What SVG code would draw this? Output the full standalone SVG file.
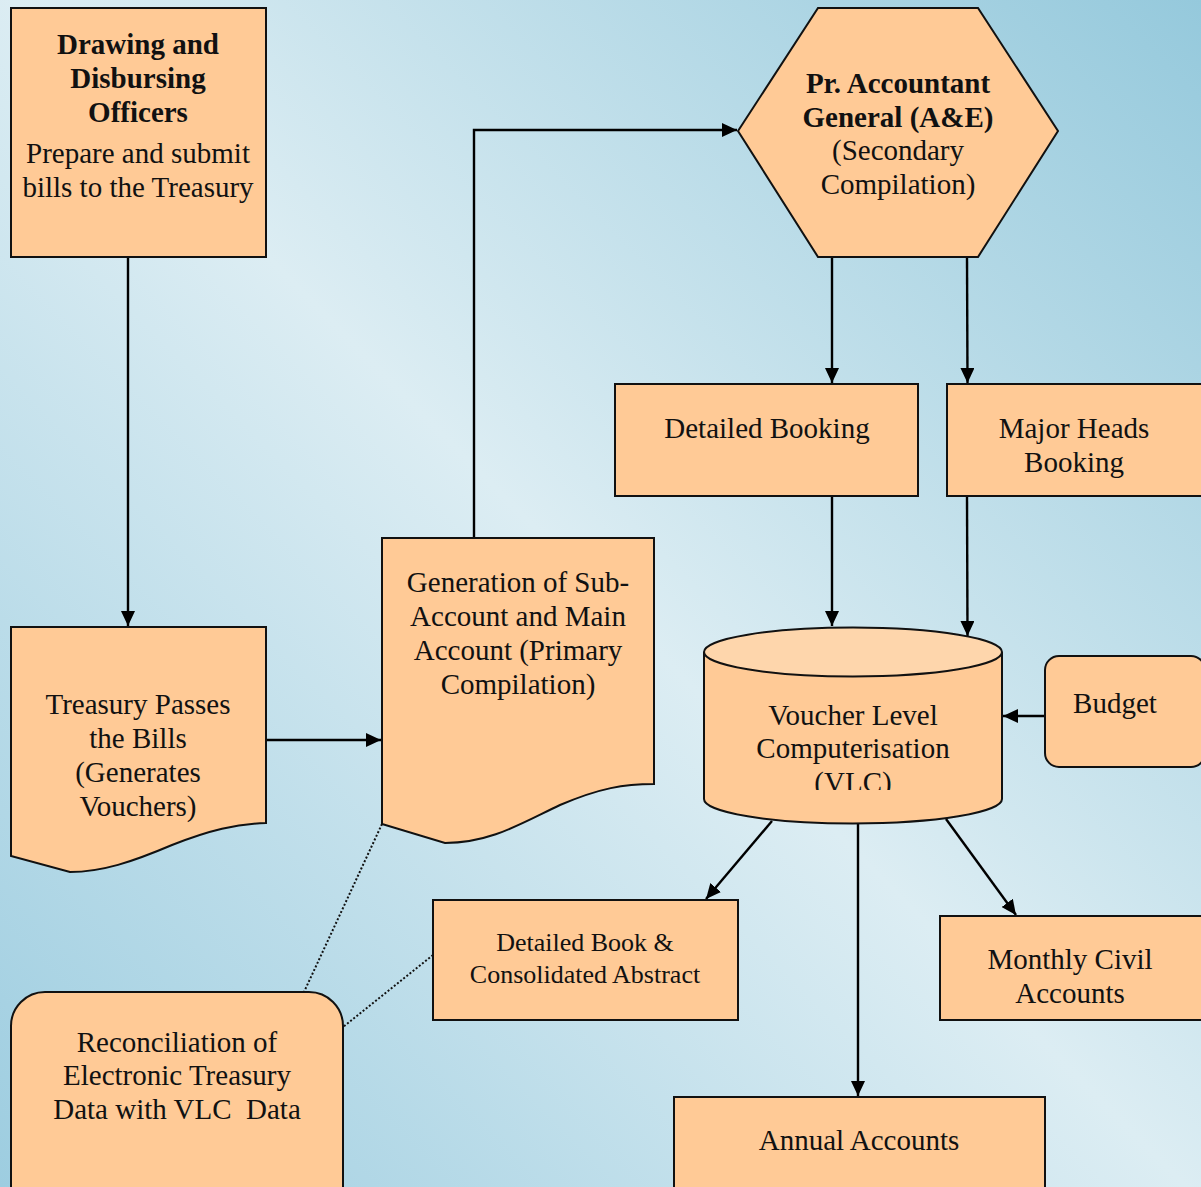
<svg xmlns="http://www.w3.org/2000/svg" width="1201" height="1187" viewBox="0 0 1201 1187">
<defs>
<linearGradient id="bg" gradientUnits="userSpaceOnUse" x1="1201" y1="0" x2="0" y2="1187">
<stop offset="0" stop-color="#95c9dc"/>
<stop offset="0.5" stop-color="#dcedf3"/>
<stop offset="1" stop-color="#9dcde0"/>
</linearGradient>
<marker id="arr" markerUnits="userSpaceOnUse" markerWidth="16" markerHeight="14" refX="15" refY="7" orient="auto">
<path d="M0,0 L15,7 L0,14 Z" fill="#000"/>
</marker>
<clipPath id="cylclip"><rect x="700" y="640" width="310" height="150"/></clipPath>
</defs>
<style>
.box{fill:#ffca96;stroke:#111;stroke-width:2}
.t{font-family:"Liberation Serif","Times New Roman",serif;font-size:29px;fill:#111;text-anchor:middle}
.b{font-weight:bold}
.s{font-size:26px}
.c{fill:none;stroke:#000;stroke-width:2.4}
.d{fill:none;stroke:#111;stroke-width:2;stroke-dasharray:2 2}
</style>
<rect width="1201" height="1187" fill="url(#bg)"/>

<g id="connectors">
<line class="c" x1="128" y1="257" x2="128" y2="626" marker-end="url(#arr)"/>
<line class="c" x1="266" y1="740" x2="381" y2="740" marker-end="url(#arr)"/>
<polyline class="c" points="474,538 474,130 737,130" marker-end="url(#arr)"/>
<line class="c" x1="832" y1="257" x2="832" y2="383" marker-end="url(#arr)"/>
<line class="c" x1="967" y1="257" x2="967.5" y2="383" marker-end="url(#arr)"/>
<line class="c" x1="832" y1="496" x2="832" y2="626" marker-end="url(#arr)"/>
<line class="c" x1="967" y1="496" x2="967.5" y2="636" marker-end="url(#arr)"/>
<line class="c" x1="1045" y1="716" x2="1003" y2="716" marker-end="url(#arr)"/>
<line class="c" x1="772" y1="821" x2="706" y2="899" marker-end="url(#arr)"/>
<line class="c" x1="858" y1="823" x2="858" y2="1096" marker-end="url(#arr)"/>
<line class="c" x1="946" y1="819" x2="1016" y2="915" marker-end="url(#arr)"/>
<line class="d" x1="382" y1="824" x2="304" y2="992"/>
<line class="d" x1="433" y1="955" x2="343" y2="1027"/>
</g>

<g id="ddo">
<rect class="box" x="11" y="8" width="255" height="249"/>
<text class="t b" x="138" y="54">Drawing and</text>
<text class="t b" x="138" y="88">Disbursing</text>
<text class="t b" x="138" y="122">Officers</text>
<text class="t" x="138" y="163">Prepare and submit</text>
<text class="t" x="138" y="197">bills to the Treasury</text>
</g>

<g id="treasury">
<path class="box" d="M11,627 H266 V823 C236,824 210,830 172,845 C132,862 102,872 70,872 L11,856 Z"/>
<text class="t" x="138" y="714">Treasury Passes</text>
<text class="t" x="138" y="748">the Bills</text>
<text class="t" x="138" y="782">(Generates</text>
<text class="t" x="138" y="816">Vouchers)</text>
</g>

<g id="generation">
<path class="box" d="M382,538 H654 V784 C624,784 600,788 560,805 C520,824 490,843 445,843 L382,824 Z"/>
<text class="t" x="518" y="592">Generation of Sub-</text>
<text class="t" x="518" y="626">Account and Main</text>
<text class="t" x="518" y="660">Account (Primary</text>
<text class="t" x="518" y="694">Compilation)</text>
</g>

<g id="pag">
<polygon class="box" points="738,131 818,8 978,8 1058,131 978,257 818,257"/>
<text class="t b" x="898" y="93">Pr. Accountant</text>
<text class="t b" x="898" y="127">General (A&amp;E)</text>
<text class="t" x="898" y="160">(Secondary</text>
<text class="t" x="898" y="194">Compilation)</text>
</g>

<g id="detailed-booking">
<rect class="box" x="615" y="384" width="303" height="112"/>
<text class="t" x="767" y="438">Detailed Booking</text>
</g>

<g id="major-heads">
<rect class="box" x="947" y="384" width="258" height="112"/>
<text class="t" x="1074" y="438">Major Heads</text>
<text class="t" x="1074" y="472">Booking</text>
</g>

<g id="vlc">
<path class="box" d="M704,652 V799 A149,24.5 0 0 0 1002,799 V652"/>
<ellipse cx="853" cy="652" rx="149" ry="24.5" fill="#fed6ac" stroke="#111" stroke-width="2"/>
<text class="t" x="853" y="725">Voucher Level</text>
<text class="t" x="853" y="758">Computerisation</text>
<text class="t" x="853" y="792" clip-path="url(#cylclip)">(VLC)</text>
</g>

<g id="budget">
<rect class="box" x="1045" y="656" width="160" height="111" rx="14"/>
<text class="t" x="1115" y="713">Budget</text>
</g>

<g id="detailed-book">
<rect class="box" x="433" y="900" width="305" height="120"/>
<text class="t s" x="585" y="951">Detailed Book &amp;</text>
<text class="t s" x="585" y="983">Consolidated Abstract</text>
</g>

<g id="monthly">
<rect class="box" x="940" y="916" width="265" height="104"/>
<text class="t" x="1070" y="969">Monthly Civil</text>
<text class="t" x="1070" y="1003">Accounts</text>
</g>

<g id="annual">
<rect class="box" x="674" y="1097" width="371" height="110"/>
<text class="t" x="859" y="1150">Annual Accounts</text>
</g>

<g id="reconciliation">
<rect class="box" x="11" y="992" width="332" height="230" rx="34"/>
<text class="t" x="177" y="1052">Reconciliation of</text>
<text class="t" x="177" y="1085">Electronic Treasury</text>
<text class="t" x="177" y="1119" xml:space="preserve" style="white-space:pre">Data with VLC  Data</text>
</g>
</svg>
